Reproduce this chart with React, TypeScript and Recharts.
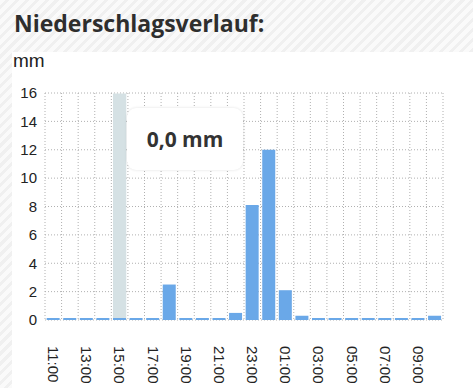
import { BarChart, Bar, XAxis, YAxis, CartesianGrid, Tooltip } from 'recharts'

const hours = [
  '11:00', '12:00', '13:00', '14:00', '15:00', '16:00', '17:00', '18:00',
  '19:00', '20:00', '21:00', '22:00', '23:00', '00:00', '01:00', '02:00',
  '03:00', '04:00', '05:00', '06:00', '07:00', '08:00', '09:00', '10:00',
]
const rain = [
  0, 0, 0, 0, 0, 0, 0, 2.5, 0, 0, 0, 0.5, 8.1, 12, 2.1, 0.3,
  0, 0, 0, 0, 0, 0, 0, 0.3,
]
const yTicks = [0, 2, 4, 6, 8, 10, 12, 14, 16]
const activeHour = 4

const data = hours.map((hour, i) => ({ hour, rain: rain[i] }))

const font = 'Arial, "Liberation Sans", sans-serif'

const HourTick = (props: any) => {
  const { x, y, payload } = props
  return (
    <text
      x={x}
      y={y + 18}
      dy="0.35em"
      transform={`rotate(90, ${x}, ${y + 18})`}
      textAnchor="start"
      fill="#222"
      fontSize={15}
      fontFamily={font}
    >
      {payload.value}
    </text>
  )
}

const BarCursor = (props: any) => {
  const { x, y, width, height } = props
  return (
    <rect
      x={x + width * 0.1}
      y={y}
      width={width * 0.8}
      height={height}
      fill="#d5e1e4"
    />
  )
}

const RainTooltip = ({ active, payload }: any) => {
  if (!active || !payload || !payload.length) return null
  const v = Number(payload[0].value).toFixed(1).replace('.', ',')
  return (
    <div
      style={{
        width: 116,
        height: 62,
        background: '#fff',
        borderRadius: 9,
        boxShadow: '0 0 3px rgba(0,0,0,0.12)',
        display: 'flex',
        alignItems: 'center',
        justifyContent: 'center',
        fontFamily: '"Open Sans", sans-serif',
        fontWeight: 700,
        fontSize: 21,
        color: '#333',
      }}
    >
      {v} mm
    </div>
  )
}

export default function App() {
  return (
    <div
      style={{
        position: 'absolute',
        left: 0,
        top: 0,
        width: 473,
        height: 388,
        overflow: 'hidden',
        background:
          'repeating-linear-gradient(-45deg, #f0f0f0 0px, #f0f0f0 3px, #fafafa 3px, #fafafa 7px)',
      }}
    >
      <div
        style={{
          position: 'absolute',
          left: 14,
          top: 8,
          fontFamily: '"Open Sans", sans-serif',
          fontWeight: 700,
          fontSize: 23,
          color: '#2e2e2e',
          lineHeight: '30px',
        }}
      >
        Niederschlagsverlauf:
      </div>
      <div
        style={{
          position: 'absolute',
          left: 12,
          top: 52,
          right: 0,
          bottom: 0,
          background: '#fff',
        }}
      />
      <div
        style={{
          position: 'absolute',
          left: 13,
          top: 50,
          fontFamily: font,
          fontSize: 19,
          color: '#222',
        }}
      >
        mm
      </div>
      <div style={{ position: 'absolute', left: 0, top: 0 }}>
        <BarChart
          width={473}
          height={388}
          data={data}
          margin={{ top: 93, right: 30, left: 0, bottom: 0 }}
          barCategoryGap="10%"
        >
          <CartesianGrid
            stroke="#b0b0b0"
            strokeDasharray="1 2"
            verticalCoordinatesGenerator={({ offset }: any) =>
              Array.from({ length: hours.length + 1 }, (_, i) => offset.left + (i * offset.width) / hours.length)
            }
          />
          <XAxis
            dataKey="hour"
            interval={1}
            height={68}
            tickLine={false}
            axisLine={false}
            tick={<HourTick />}
          />
          <YAxis
            width={45}
            domain={[0, 16]}
            ticks={yTicks}
            tickLine={false}
            axisLine={false}
            tick={{ fill: '#222', fontSize: 15, fontFamily: font }}
          />
          <Tooltip
            defaultIndex={activeHour}
            active
            isAnimationActive={false}
            position={{ x: 127, y: 108 }}
            cursor={<BarCursor />}
            content={<RainTooltip />}
            wrapperStyle={{ outline: 'none' }}
          />
          <Bar dataKey="rain" fill="#6aa8e8" minPointSize={2} isAnimationActive={false} />
        </BarChart>
      </div>
    </div>
  )
}
